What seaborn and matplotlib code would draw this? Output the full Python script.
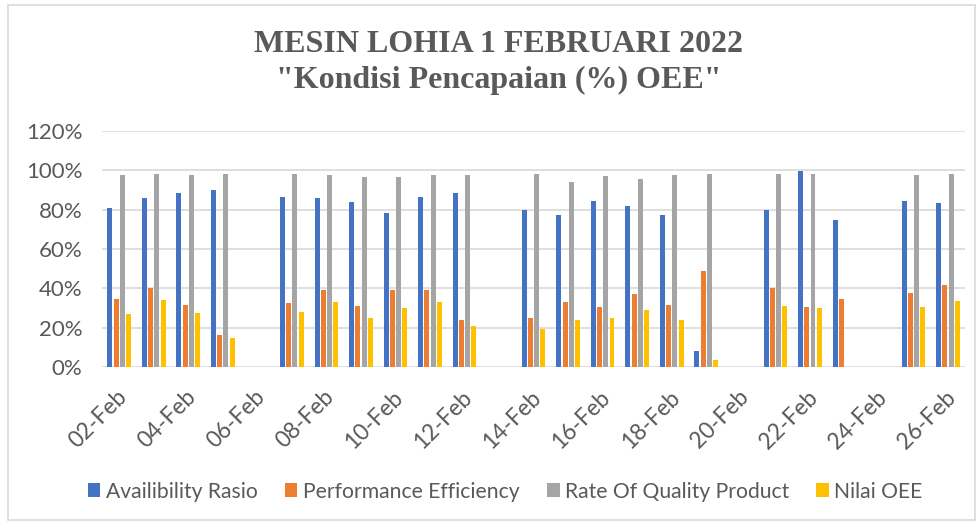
import numpy as np
import pandas as pd
import seaborn as sns
import matplotlib.pyplot as plt
from matplotlib.patches import Rectangle
from matplotlib.ticker import FuncFormatter
from matplotlib.transforms import ScaledTranslation

# tanggal 02-Feb s/d 26-Feb (hari kosong = NaN)
dates = [f"{d:02d}-Feb" for d in range(2, 27)]
nan = np.nan

availability = [80.8, 85.9, 88.3, 90.2, nan, 86.6, 86.1, 83.7, 78.4, 86.2, 88.4, nan,
                79.9, 77.2, 84.2, 81.8, 77.2, 8.3, nan, 79.9, 99.8, 74.8, nan, 84.2, 83.2]
performance = [34.4, 40.3, 31.7, 16.4, nan, 32.7, 39.0, 31.1, 39.3, 39.1, 24.1, nan,
               24.8, 33.0, 30.4, 37.2, 31.6, 48.8, nan, 40.1, 30.4, 34.4, nan, 37.6, 41.8]
quality = [97.5, 98.1, 97.6, 98.1, nan, 98.1, 97.6, 96.8, 96.4, 97.8, 97.4, nan,
           98.0, 94.0, 96.9, 95.4, 97.6, 98.0, nan, 98.0, 98.1, nan, nan, 97.6, 98.3]
oee = [27.1, 34.1, 27.5, 14.6, nan, 27.8, 32.9, 24.8, 29.8, 33.0, 20.7, nan,
       19.4, 23.8, 24.7, 29.1, 23.8, 3.7, nan, 31.1, 29.8, nan, nan, 30.6, 33.8]

series = ["Availibility Rasio", "Performance Efficiency", "Rate Of Quality Product", "Nilai OEE"]
colors = ["#4472C4", "#ED7D31", "#A5A5A5", "#FFC000"]
text_col = "#595959"
grid_col = "#D9D9D9"

df = pd.DataFrame({"Tanggal": dates, series[0]: availability, series[1]: performance,
                   series[2]: quality, series[3]: oee})
long_df = df.melt(id_vars="Tanggal", var_name="Kategori", value_name="Nilai")

sns.set_theme(style="white")
plt.rcParams["font.family"] = ["Lato", "DejaVu Sans"]

fig = plt.figure(figsize=(9.8, 5.24), dpi=100)
ax = fig.add_axes([0.104, 0.2996, 0.881, 0.4504])

sns.barplot(data=long_df, x="Tanggal", y="Nilai", hue="Kategori", order=dates,
            hue_order=series, palette=colors, saturation=1, width=0.72, gap=0.2,
            linewidth=0, errorbar=None, ax=ax)

ax.set_ylim(0, 120)
ax.set_xlim(-0.5, len(dates) - 0.5)
ax.set_yticks(range(0, 121, 20))
ax.yaxis.set_major_formatter(FuncFormatter(lambda v, p: f"{v:.0f}%"))
ax.grid(axis="y", color=grid_col, linewidth=1.2)
ax.set_axisbelow(True)
for s in ax.spines.values():
    s.set_visible(False)

ax.set_xticks(range(0, len(dates), 2))
ax.set_xticklabels(dates[::2], rotation=45, ha="right", rotation_mode="anchor")
ax.tick_params(axis="x", length=0, pad=14, labelsize=16.3, labelcolor=text_col)
ax.tick_params(axis="y", length=0, pad=14, labelsize=16, labelcolor=text_col)
shift = ScaledTranslation(-3 / 100, 0, fig.dpi_scale_trans)
for lbl in ax.get_xticklabels():
    lbl.set_transform(lbl.get_transform() + shift)
ax.set_xlabel("")
ax.set_ylabel("")

ax.legend(loc="upper center", bbox_to_anchor=(0.467, -0.405), ncol=4, frameon=False,
          fontsize=15.2, labelcolor=text_col, handlelength=0.6, handleheight=0.6,
          handletextpad=0.25, columnspacing=1.3)

fig.text(0.509, 0.915, "MESIN LOHIA 1 FEBRUARI 2022", ha="center", va="center",
         fontsize=23, fontweight="bold", color=text_col, family="Liberation Serif")
fig.text(0.509, 0.847, '"Kondisi Pencapaian (%) OEE"', ha="center", va="center",
         fontsize=23, fontweight="bold", color=text_col, family="Liberation Serif")

fig.patches.append(Rectangle((8 / 980, 4 / 524), 967 / 980, 515 / 524, transform=fig.transFigure,
                             fill=False, edgecolor=grid_col, linewidth=1.2))

fig.savefig("out.png", dpi=100)
